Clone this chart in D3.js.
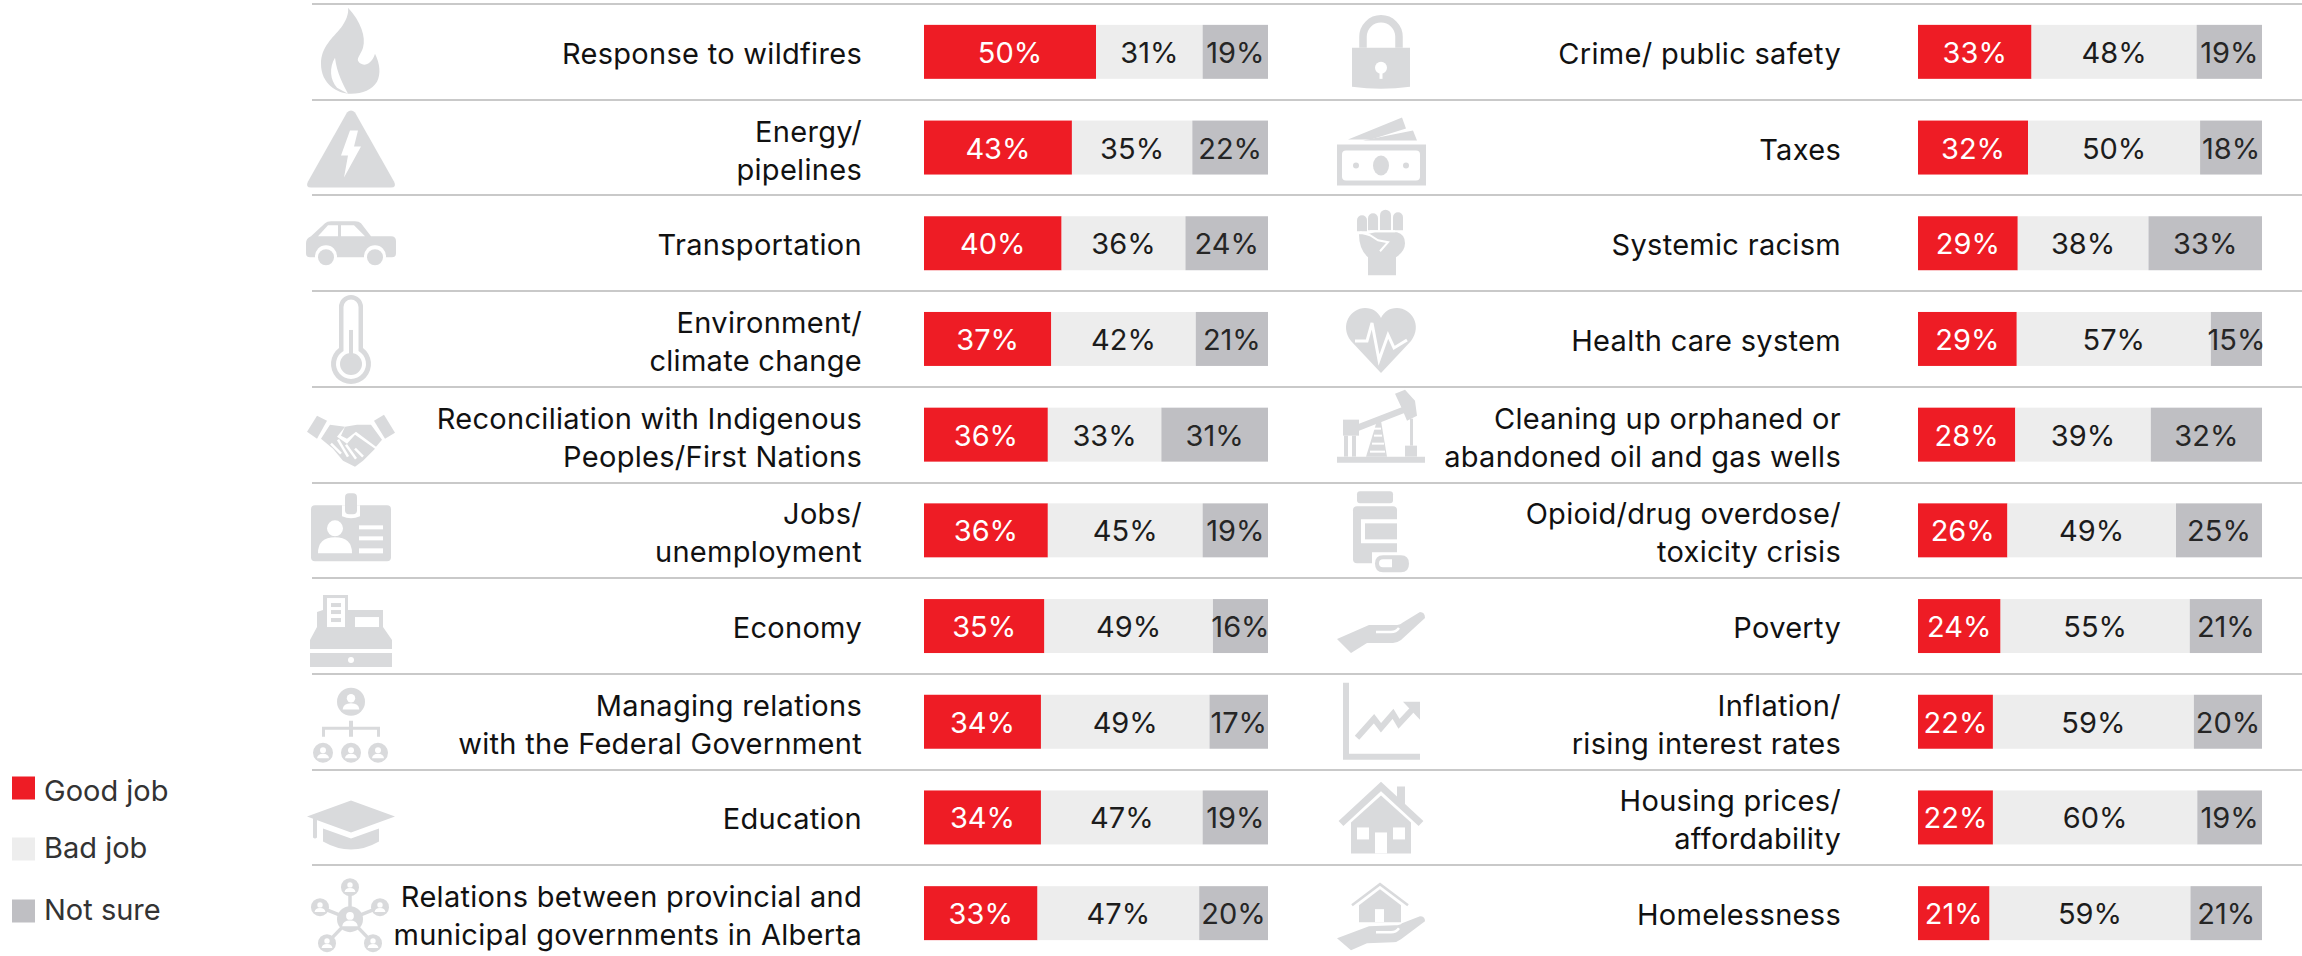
<!DOCTYPE html>
<html>
<head>
<meta charset="utf-8">
<script src="https://cdn.jsdelivr.net/npm/d3@7"></script>
<style>
  html, body { margin: 0; padding: 0; background: #fff; }
  svg { display: block; }
</style>
</head>
<body>
<script>
// values
var seriesNames = ['Good job', 'Bad job', 'Not sure'];

var leftLabels = [
  ['Response to wildfires'],
  ['Energy/', 'pipelines'],
  ['Transportation'],
  ['Environment/', 'climate change'],
  ['Reconciliation with Indigenous', 'Peoples/First Nations'],
  ['Jobs/', 'unemployment'],
  ['Economy'],
  ['Managing relations', 'with the Federal Government'],
  ['Education'],
  ['Relations between provincial and', 'municipal governments in Alberta']
];
var leftGood = [50, 43, 40, 37, 36, 36, 35, 34, 34, 33];
var leftBad = [31, 35, 36, 42, 33, 45, 49, 49, 47, 47];
var leftNotSure = [19, 22, 24, 21, 31, 19, 16, 17, 19, 20];
var leftIcons = ['flame', 'warning', 'car', 'thermometer', 'handshake', 'idcard', 'register', 'orgchart', 'mortarboard', 'network'];

var rightLabels = [
  ['Crime/ public safety'],
  ['Taxes'],
  ['Systemic racism'],
  ['Health care system'],
  ['Cleaning up orphaned or', 'abandoned oil and gas wells'],
  ['Opioid/drug overdose/', 'toxicity crisis'],
  ['Poverty'],
  ['Inflation/', 'rising interest rates'],
  ['Housing prices/', 'affordability'],
  ['Homelessness']
];
var rightGood = [33, 32, 29, 29, 28, 26, 24, 22, 22, 21];
var rightBad = [48, 50, 38, 57, 39, 49, 55, 59, 60, 59];
var rightNotSure = [19, 18, 33, 15, 32, 25, 21, 20, 19, 21];
var rightIcons = ['lock', 'money', 'fist', 'heart', 'pumpjack', 'bottle', 'hand', 'trend', 'house', 'handhouse'];

var seriesColors = ['#ee1c25', '#ededed', '#bfbfc3'];
var valueColors = ['#fff', '#1c1c1c', '#262626'];
var iconColor = '#d9dadc';
var labelFont = 'Inter, sans-serif';
var valueFont = 'Inter, sans-serif';

var width = 2302, height = 956;

var svg = d3.select('body').append('svg')
  .attr('width', width)
  .attr('height', height);

// row positions
var rows = d3.range(10);
var y = d3.scaleBand().domain(rows).range([4, 961]).paddingInner(0.436).paddingOuter(0.218);
var rowCenter = function (i) { return y(i) + y.bandwidth() / 2; };

// separator lines
svg.selectAll('line.sep')
  .data(rows)
  .enter().append('line')
  .attr('class', 'sep')
  .attr('x1', 312)
  .attr('x2', width)
  .attr('y1', function (d) { return Math.round(y.step() * d + 4); })
  .attr('y2', function (d) { return Math.round(y.step() * d + 4); })
  .attr('stroke', '#c9c9c9')
  .attr('stroke-width', 2);

// circle as a path
function c(x, y, r) {
  return 'M' + (x - r) + ',' + y + 'a' + r + ',' + r + ' 0 1 0 ' + (2 * r) + ',0a' + r + ',' + r + ' 0 1 0 ' + (-2 * r) + ',0Z';
}
function person(x, y, r) {
  return [
    ['g', c(x, y, r)],
    ['w', c(x, y - 0.25 * r, 0.3 * r)],
    ['w', 'M' + (x - 0.6 * r) + ',' + (y + 0.55 * r) + 'Q' + (x - 0.55 * r) + ',' + (y + 0.1 * r) + ' ' + x + ',' + (y + 0.1 * r) +
          'Q' + (x + 0.55 * r) + ',' + (y + 0.1 * r) + ' ' + (x + 0.6 * r) + ',' + (y + 0.55 * r) + 'Z']
  ];
}

var handShape = [
  ['g', 'M-44,13L-12,-1L14,-1Q19,-1 21,-3L39,-14Q44,-14 44,-8L20,14Q16,17 12,17L-14,17L-30,27Z'],
  ['s', 'M-5,6L10,6Q15,6 18,2', 2.5]
];

// icons, drawn around the middle of their row
var icons = {
  flame: [
    ['g', 'M-3,-44C10,-30 15,-15 12,-4C10,2 6,6 7,9C10,15 20,15 24,2C29,12 30,22 26,30C21,38 12,42 0,42C-14,42 -30,32 -30,12C-30,-5 -18,-14 -10,-24C-5,-31 -2,-38 -3,-44Z'],
    ['w', 'M-16,6C-22,16 -21,28 -14,36L-3,42C-8,32 -14,22 -16,6Z']
  ],
  warning: [
    ['g', 'M-4,-35Q0,-39 4,-35L43,34Q46,40 40,40L-40,40Q-46,40 -43,34Z'],
    ['w', 'M-1,-17L7,-17L3,-1L10,-1L-7,30L-3,8L-10,8Z']
  ],
  car: [
    ['g', 'M-45,0Q-45,-5 -40,-7L-26,-20Q-24,-22 -20,-22L4,-22Q8,-22 10,-20L20,-7L40,-7Q45,-7 45,-2L45,10Q45,14 41,14L-41,14Q-45,14 -45,10Z'],
    ['w', 'M-33,-7L-23,-18L-13,-18L-13,-7Z'],
    ['w', 'M-10,-18L3,-18L14,-7L-10,-7Z'],
    ['w', c(-25, 13, 11)], ['w', c(24, 13, 11)],
    ['g', c(-25, 14, 8)], ['g', c(24, 14, 8)]
  ],
  thermometer: [
    ['g', 'M-12,-32A12,12 0 0 1 12,-32L12,9A20,20 0 1 1 -12,9Z'],
    ['w', 'M-7.5,-32A7.5,7.5 0 0 1 7.5,-32L7.5,12A15,15 0 1 1 -7.5,12Z'],
    ['g', c(0, 25, 11)],
    ['g', 'M-2,-9L2,-9L2,20L-2,20Z']
  ],
  handshake: [
    ['g', 'M-34,-19L-24,-14L-34,4L-44,-3Z'],
    ['g', 'M33,-20L44,-2L34,4L23,-14Z'],
    ['g', 'M-21,-10L-6,-8L-14,2L-4,9L4,0L24,14L12,26L4,32L-8,26L-18,14L-30,4Z'],
    ['g', 'M-6,-8L6,-10L20,-10L31,5L25,12L5,-3L-4,4L-10,1Z'],
    ['s', 'M-20,9L-10,19', 2.5],
    ['s', 'M-13,5L-3,22', 2.5],
    ['s', 'M-5,10L5,24', 2.5],
    ['s', 'M4,14L12,22', 2.5]
  ],
  idcard: [
    ['g', 'M-36,-25L36,-25Q40,-25 40,-21L40,27Q40,31 36,31L-36,31Q-40,31 -40,27L-40,-21Q-40,-25 -36,-25Z'],
    ['w', 'M-9,-25L-9,-14Q0,-10 9,-14L9,-25Z'],
    ['g', 'M-6,-33Q-6,-37 -2,-37L2,-37Q6,-37 6,-33L6,-20Q6,-16 2,-16L-2,-16Q-6,-16 -6,-20Z'],
    ['w', c(-16, -2, 8)],
    ['w', 'M-33,23Q-33,7 -16,7Q1,7 1,23Z'],
    ['w', 'M8,-5L32,-5L32,-1L8,-1Z'],
    ['w', 'M8,6L32,6L32,10L8,10Z'],
    ['w', 'M8,18L32,18L32,23L8,23Z']
  ],
  register: [
    ['g', 'M-28,-31L-3,-31L-3,-16L32,-16L32,1L41,14L41,23L-41,23L-41,14L-34,1L-34,-14L-28,-16Z'],
    ['g', 'M-41,27L41,27L41,41L-41,41Z'],
    ['w', c(0, 34, 3)],
    ['w', 'M-24,-28L-6,-28L-6,1L-24,1Z'],
    ['g', 'M-20,-23L-10,-23L-10,-19L-20,-19Z'],
    ['g', 'M-20,-16L-10,-16L-10,-12L-20,-12Z'],
    ['g', 'M-20,-8L-10,-8L-10,-4L-20,-4Z'],
    ['w', 'M4,-9L28,-9L28,1L4,1Z']
  ],
  orgchart: [].concat(
    person(0, -20, 14),
    [['g', 'M-2,-1L2,-1L2,5L29,5L29,15L26,15L26,8L2,8L2,15L-2,15L-2,8L-26,8L-26,15L-29,15L-29,5L-2,5Z']],
    person(-28, 31, 10), person(0, 31, 10), person(27, 31, 10)
  ),
  mortarboard: [
    ['g', 'M-44,-1L0,-17L44,-1L0,15Z'],
    ['g', 'M-38,0L-34,1L-34,20Q-36,22 -38,20Z'],
    ['g', 'M-28,11L0,21L28,11L28,24Q0,40 -28,24Z']
  ],
  network: [].concat(
    [['k', 'M-1,6L-1,-26', 3.5], ['k', 'M-1,6L-31,-6', 3.5], ['k', 'M-1,6L29,-6', 3.5], ['k', 'M-1,6L-24,30', 3.5], ['k', 'M-1,6L22,30', 3.5]],
    person(-1, 6, 13), person(-1, -26, 9), person(-31, -6, 9), person(29, -6, 9), person(-24, 30, 9), person(22, 30, 9)
  ),
  lock: [
    ['k', 'M-18,-4L-18,-15A18,18 0 0 1 18,-15L18,-4', 7.5],
    ['g', 'M-29,-4L29,-4L29,35Q0,39 -29,35Z'],
    ['w', c(0, 16, 6)],
    ['w', 'M-1.5,16L1.5,16L1.5,27L-1.5,27Z']
  ],
  money: [
    ['g', 'M-33,-8L21,-30L25,-19L-10,-8Z'],
    ['g', 'M-18,-7L32,-17L36,-7Z'],
    ['g', 'M-44,-3L45,-3L45,38L-44,38Z'],
    ['w', 'M-35,3L35,3Q39,3 39,7L39,29Q39,33 35,33L-35,33Q-39,33 -39,29L-39,7Q-39,3 -35,3Z'],
    ['g', 'M-8,18a8,10 0 1 0 16,0a8,10 0 1 0 -16,0Z'],
    ['g', c(-25, 18, 3)], ['g', c(25, 18, 3)]
  ],
  fist: [
    ['g', 'M-24,-23a5,5 0 0 1 10,0L-14,-12L-24,-12Z'],
    ['g', 'M-13,-25a5,5 0 0 1 10,0L-3,-13L-13,-13Z'],
    ['g', 'M-1,-28a5.5,5.5 0 0 1 11,0L10,-13L-1,-13Z'],
    ['g', 'M12,-26a5,5 0 0 1 10,0L22,-13L12,-13Z'],
    ['g', 'M-22,-9L-14,-9L-6,-11L16,-11Q24,-9 24,0Q24,8 15,14L15,32L-13,32L-13,14Q-22,6 -22,-9Z'],
    ['s', 'M-21,-11L-11,-8L-3,-3L7,-1L-1,8', 2],
    ['s', 'M-11,-12L14,-12', 2]
  ],
  heart: [
    ['g', 'M0,34L-30,2C-42,-14 -30,-31 -16,-31C-8,-31 -3,-27 0,-21C3,-27 8,-31 16,-31C30,-31 42,-14 30,2Z'],
    ['s', 'M-26,2L-14,2L-9,-16L-2,21L7,-4L13,9L26,1', 3]
  ],
  pumpjack: [
    ['g', 'M-44,22L44,22L44,28L-44,28Z'],
    ['g', 'M-38,-15L-22,-15L-22,1L-38,1Z'],
    ['g', 'M-37,1L-33,1L-33,22L-37,22Z'],
    ['g', 'M-29,1L-25,1L-25,22L-29,22Z'],
    ['g', 'M-22,-11L22,-28L24,-22L-22,-4Z'],
    ['g', 'M-15,22L-4,-14L0,-14L6,22Z'],
    ['w', 'M-7,-7L0,-7L0,-5L-7,-5Z'],
    ['w', 'M-7,0L1,0L1,2L-7,2Z'],
    ['w', 'M-9,8L3,8L3,10L-9,10Z'],
    ['w', 'M-11,16L4,16L4,18L-11,18Z'],
    ['g', 'M14,-41L24,-45L34,-34L36,-19L26,-14L21,-26Z'],
    ['g', 'M29,-16L32,-16L32,11L29,11Z'],
    ['g', 'M24,11L36,11L36,22L24,22Z']
  ],
  bottle: [
    ['g', 'M-21,-39L9,-39Q12,-39 12,-36L12,-30Q12,-27 9,-27L-21,-27Q-24,-27 -24,-30L-24,-36Q-24,-39 -21,-39Z'],
    ['g', 'M-24,-24L12,-24Q16,-24 16,-20L16,33L-24,33Q-28,33 -28,29L-28,-20Q-28,-24 -24,-24Z'],
    ['w', 'M-20,-11L16,-11L16,13L-20,13Z'],
    ['g', 'M-16,-7L16,-7L16,9L-16,9Z'],
    ['w', 'M-9,22L20,22Q31,22 31,33.5Q31,45 20,45L-9,45Z'],
    ['g', 'M2,25L20,25Q28,25 28,33.5Q28,42 20,42L2,42Q-6,42 -6,33.5Q-6,25 2,25Z'],
    ['w', 'M2,29L11,29L11,37L2,37Q-2,37 -2,33Q-2,29 2,29Z']
  ],
  hand: handShape,
  trend: [
    ['g', 'M-38,-39L-32,-39L-32,32L39,32L39,38L-38,38Z'],
    ['k', 'M-24,16L-7,-3L0,6L12,-8L18,2L32,-13', 6],
    ['g', 'M22,-20L39,-20L39,-2Z']
  ],
  house: [
    ['g', 'M16,-31L24,-31L24,-6L16,-12Z'],
    ['w', 'M0,-33L40,4L40,8L30,8L0,-18L-30,8L-40,8L-40,4Z'],
    ['k', 'M-40,6L0,-31L40,6', 7],
    ['g', 'M0,-22L30,5L30,36L-30,36L-30,5Z'],
    ['w', 'M-24,10L-12,10L-12,22L-24,22Z'],
    ['w', 'M12,10L24,10L24,22L12,22Z'],
    ['w', 'M-6,15L6,15L6,36L-6,36Z']
  ],
  handhouse: [
    ['k', 'M-29,-8L-1,-29L27,-8', 2.5],
    ['g', 'M-1,-24L20,-8L20,9L-22,9L-22,-8Z'],
    ['w', 'M-6,-4L3,-4L3,9L-6,9Z'],
    ['g', 'M-44,25L-12,13L14,12Q19,12 21,10L39,3Q44,3 44,8L20,26Q16,29 12,29L-14,30L-30,37Z'],
    ['s', 'M-5,19L10,19Q15,19 18,15', 2.5]
  ]
};

function drawIcon(sel, name) {
  sel.selectAll('path')
    .data(icons[name])
    .enter().append('path')
    .attr('d', function (d) { return d[1]; })
    .attr('fill', function (d) {
      if (d[0] === 'g') return iconColor;
      if (d[0] === 'w') return '#fff';
      return 'none';
    })
    .attr('stroke', function (d) {
      if (d[0] === 's') return '#fff';
      if (d[0] === 'k') return iconColor;
      return 'none';
    })
    .attr('stroke-width', function (d) { return d[2] || 0; });
}

// one column of rows: icon, label, stacked bar, value texts
function drawColumn(opts) {
  var data = rows.map(function (i) {
    return { row: i, 'Good job': opts.good[i], 'Bad job': opts.bad[i], 'Not sure': opts.notSure[i] };
  });
  var x = d3.scaleLinear().domain([0, 1]).range([opts.barLeft, opts.barRight]);
  var stacked = d3.stack().keys(seriesNames).offset(d3.stackOffsetExpand)(data);

  var col = svg.append('g');

  rows.forEach(function (i) {
    var g = col.append('g').attr('transform', 'translate(' + opts.iconX + ',' + rowCenter(i) + ')');
    drawIcon(g, opts.icons[i]);
  });

  col.selectAll('text.label')
    .data(rows)
    .enter().append('text')
    .attr('class', 'label')
    .attr('text-anchor', 'end')
    .attr('font-family', labelFont)
    .attr('font-size', 29)
    .attr('letter-spacing', 0.3)
    .attr('fill', '#111')
    .each(function (i) {
      var lines = opts.labels[i];
      d3.select(this).selectAll('tspan')
        .data(lines)
        .enter().append('tspan')
        .attr('x', opts.labelRight)
        .attr('y', function (d, k) {
          if (lines.length === 1) return rowCenter(i) + 12;
          return rowCenter(i) - 6 + k * 38;
        })
        .text(function (d) { return d; });
    });

  stacked.forEach(function (layer, s) {
    col.selectAll('rect.s' + s)
      .data(layer)
      .enter().append('rect')
      .attr('class', 's' + s)
      .attr('x', function (d) { return x(d[0]); })
      .attr('y', function (d) { return y(d.data.row); })
      .attr('width', function (d) { return x(d[1]) - x(d[0]); })
      .attr('height', y.bandwidth())
      .attr('fill', seriesColors[s]);
  });

  stacked.forEach(function (layer, s) {
    col.selectAll('text.v' + s)
      .data(layer)
      .enter().append('text')
      .attr('class', 'v' + s)
      .attr('x', function (d) { return (x(d[0]) + x(d[1])) / 2; })
      .attr('y', function (d) { return rowCenter(d.data.row) + 11; })
      .attr('text-anchor', 'middle')
      .attr('font-family', valueFont)
      .attr('font-size', 29)
      .attr('fill', valueColors[s])
      .text(function (d) { return d.data[seriesNames[s]] + '%'; });
  });
}

drawColumn({
  labels: leftLabels, good: leftGood, bad: leftBad, notSure: leftNotSure, icons: leftIcons,
  iconX: 351, labelRight: 862, barLeft: 924, barRight: 1268
});
drawColumn({
  labels: rightLabels, good: rightGood, bad: rightBad, notSure: rightNotSure, icons: rightIcons,
  iconX: 1381, labelRight: 1841, barLeft: 1918, barRight: 2262
});

// legend
var legendY = d3.scaleOrdinal().domain(seriesNames).range([788, 849, 911]);
var legendBaseline = d3.scaleOrdinal().domain(seriesNames).range([801, 858, 920]);

svg.selectAll('rect.legend')
  .data(seriesNames)
  .enter().append('rect')
  .attr('class', 'legend')
  .attr('x', 12)
  .attr('y', function (d) { return legendY(d) - 11.5; })
  .attr('width', 23)
  .attr('height', 23)
  .attr('fill', function (d, i) { return seriesColors[i]; });

svg.selectAll('text.legend')
  .data(seriesNames)
  .enter().append('text')
  .attr('class', 'legend')
  .attr('x', 44)
  .attr('y', function (d) { return legendBaseline(d); })
  .attr('font-family', labelFont)
  .attr('font-size', 29)
  .attr('fill', '#333')
  .text(function (d) { return d; });
</script>
</body>
</html>
